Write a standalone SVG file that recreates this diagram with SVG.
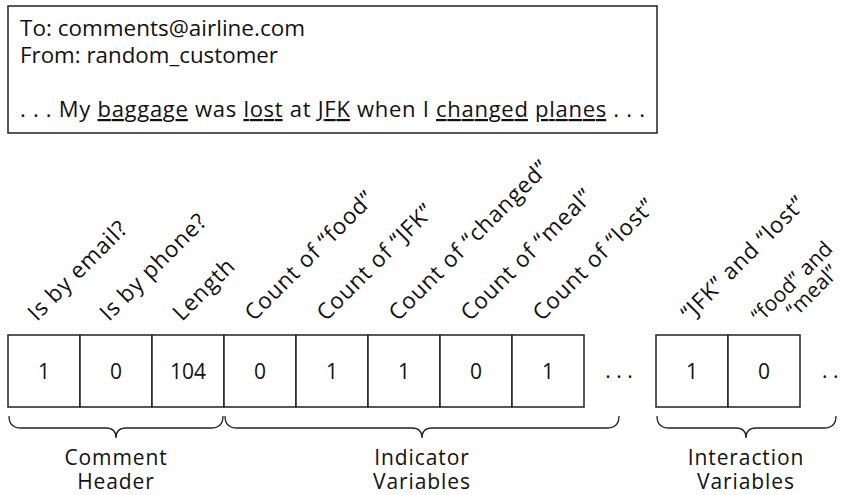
<svg xmlns="http://www.w3.org/2000/svg" width="845" height="495" viewBox="0 0 845 495">
<style>
text{font-family:"Open Sans","Noto Sans","DejaVu Sans",sans-serif;fill:#111}
.box{fill:#fff;stroke:#222;stroke-width:1.5}
.cell{fill:#fff;stroke:#222;stroke-width:1.5}
.v{font-size:21px;text-anchor:middle}
.lab{font-size:22.5px;letter-spacing:0.8px}
.lab2{font-size:21px;letter-spacing:0.2px}
.grp{font-size:21px;letter-spacing:0.9px;text-anchor:middle}
.em{font-size:22px}
.brace{fill:none;stroke:#222;stroke-width:1.3}
.u{text-decoration:underline}
</style>
<rect width="845" height="495" fill="#fff"/>
<g id="email">
<rect class="box" x="8" y="6" width="649" height="127"/>
<text class="em" x="20" y="36" textLength="285" lengthAdjust="spacingAndGlyphs">To: comments@airline.com</text>
<text class="em" x="20" y="63" textLength="258" lengthAdjust="spacingAndGlyphs">From: random_customer</text>
<text class="em" x="20" y="117" textLength="625" lengthAdjust="spacing">. . . My <tspan class="u">baggage</tspan> was <tspan class="u">lost</tspan> at <tspan class="u">JFK</tspan> when I <tspan class="u">changed</tspan> <tspan class="u">planes</tspan> . . .</text>
</g>
<g id="labels">
<text class="lab" x="37" y="322" transform="rotate(-45 37 322)">Is by email?</text>
<text class="lab" x="109" y="322" transform="rotate(-45 109 322)">Is by phone?</text>
<text class="lab" x="182" y="322" transform="rotate(-45 182 322)">Length</text>
<text class="lab" x="254" y="322" transform="rotate(-45 254 322)">Count of “food”</text>
<text class="lab" x="326" y="322" transform="rotate(-45 326 322)">Count of “JFK”</text>
<text class="lab" x="398" y="322" transform="rotate(-45 398 322)">Count of “changed”</text>
<text class="lab" x="470" y="322" transform="rotate(-45 470 322)">Count of “meal”</text>
<text class="lab" x="542" y="322" transform="rotate(-45 542 322)">Count of “lost”</text>
<text class="lab" x="690" y="322" transform="rotate(-45 690 322)">“JFK” and “lost”</text>
<text class="lab2" x="760" y="324" transform="rotate(-45 760 324)">“food” and<tspan x="788" y="345">“meal”</tspan></text>
</g>
<g id="header-cells">
<rect class="cell" x="8" y="335" width="72" height="72"/>
<rect class="cell" x="80" y="335" width="72" height="72"/>
<rect class="cell" x="152" y="335" width="72" height="72"/>
<text class="v" x="44" y="379">1</text>
<text class="v" x="116" y="379">0</text>
<text class="v" x="188" y="379">104</text>
</g>
<g id="indicator-cells">
<rect class="cell" x="224" y="335" width="72" height="72"/>
<rect class="cell" x="296" y="335" width="72" height="72"/>
<rect class="cell" x="368" y="335" width="72" height="72"/>
<rect class="cell" x="440" y="335" width="72" height="72"/>
<rect class="cell" x="512" y="335" width="72" height="72"/>
<text class="v" x="260" y="379">0</text>
<text class="v" x="332" y="379">1</text>
<text class="v" x="404" y="379">1</text>
<text class="v" x="476" y="379">0</text>
<text class="v" x="548" y="379">1</text>
<text class="v" x="619" y="378">. . .</text>
</g>
<g id="interaction-cells">
<rect class="cell" x="656" y="335" width="72" height="72"/>
<rect class="cell" x="728" y="335" width="72" height="72"/>
<text class="v" x="692" y="379">1</text>
<text class="v" x="764" y="379">0</text>
<text class="v" x="822" y="378" style="text-anchor:start">. .</text>
</g>
<g id="braces">
<path class="brace" d="M9,416 Q9,428 21,428 H106 Q116,428 116,438 Q116,428 126,428 H211 Q223,428 223,416"/>
<path class="brace" d="M225,416 Q225,428 237,428 H412 Q422,428 422,438 Q422,428 432,428 H607 Q619,428 619,416"/>
<path class="brace" d="M657,416 Q657,428 669,428 H736 Q746,428 746,438 Q746,428 756,428 H824 Q836,428 836,416"/>
</g>
<g id="group-labels">
<text class="grp" x="116" y="465">Comment<tspan x="116" y="489">Header</tspan></text>
<text class="grp" x="422" y="465">Indicator<tspan x="422" y="489">Variables</tspan></text>
<text class="grp" x="746" y="465">Interaction<tspan x="746" y="489">Variables</tspan></text>
</g>
</svg>
